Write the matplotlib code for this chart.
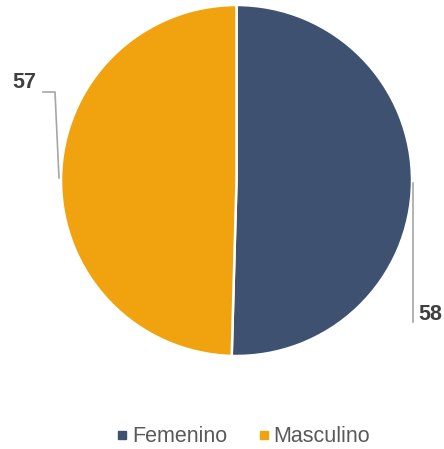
import matplotlib.pyplot as plt
from matplotlib.lines import Line2D

plt.rcParams['font.family'] = ['Liberation Sans', 'DejaVu Sans']

categories = ['Femenino', 'Masculino']
values = [58, 57]
colors = ['#3E5170', '#F1A30F']

fig = plt.figure(figsize=(4.44, 4.49), dpi=100)
ax = fig.add_axes([0, 0, 1, 1])
ax.set_xlim(0, 444)
ax.set_ylim(0, 449)
ax.set_aspect('equal')
ax.axis('off')

# pastel (coordenadas en pixeles, y hacia arriba)
ax.pie(values, colors=colors, startangle=90, counterclock=False,
       center=(236.5, 268.5), radius=175.5,
       wedgeprops=dict(edgecolor='white', linewidth=1.8))
ax.set_xlim(0, 444)
ax.set_ylim(0, 449)

# etiquetas con lineas guia
ax.plot([43, 55, 59], [357, 357, 271], color='#A6A6A6', lw=1.2)
ax.text(24, 367, str(values[1]), ha='center', va='center',
        fontsize=15.5, fontweight='bold', color='#404040')
ax.plot([413, 413], [266, 127], color='#A6A6A6', lw=1.2)
ax.text(430, 134, str(values[0]), ha='center', va='center',
        fontsize=15.5, fontweight='bold', color='#404040')

# leyenda
handles = [Line2D([], [], marker='s', linestyle='none', markersize=5.5,
                  color=c) for c in colors]
fig.legend(handles, categories, loc='center', bbox_to_anchor=(0.545, 0.027),
           ncol=2, frameon=False, fontsize=15.5, labelcolor='#595959',
           handletextpad=0.05, columnspacing=1.3, handlelength=0.8)

fig.savefig('out.png', dpi=100)
